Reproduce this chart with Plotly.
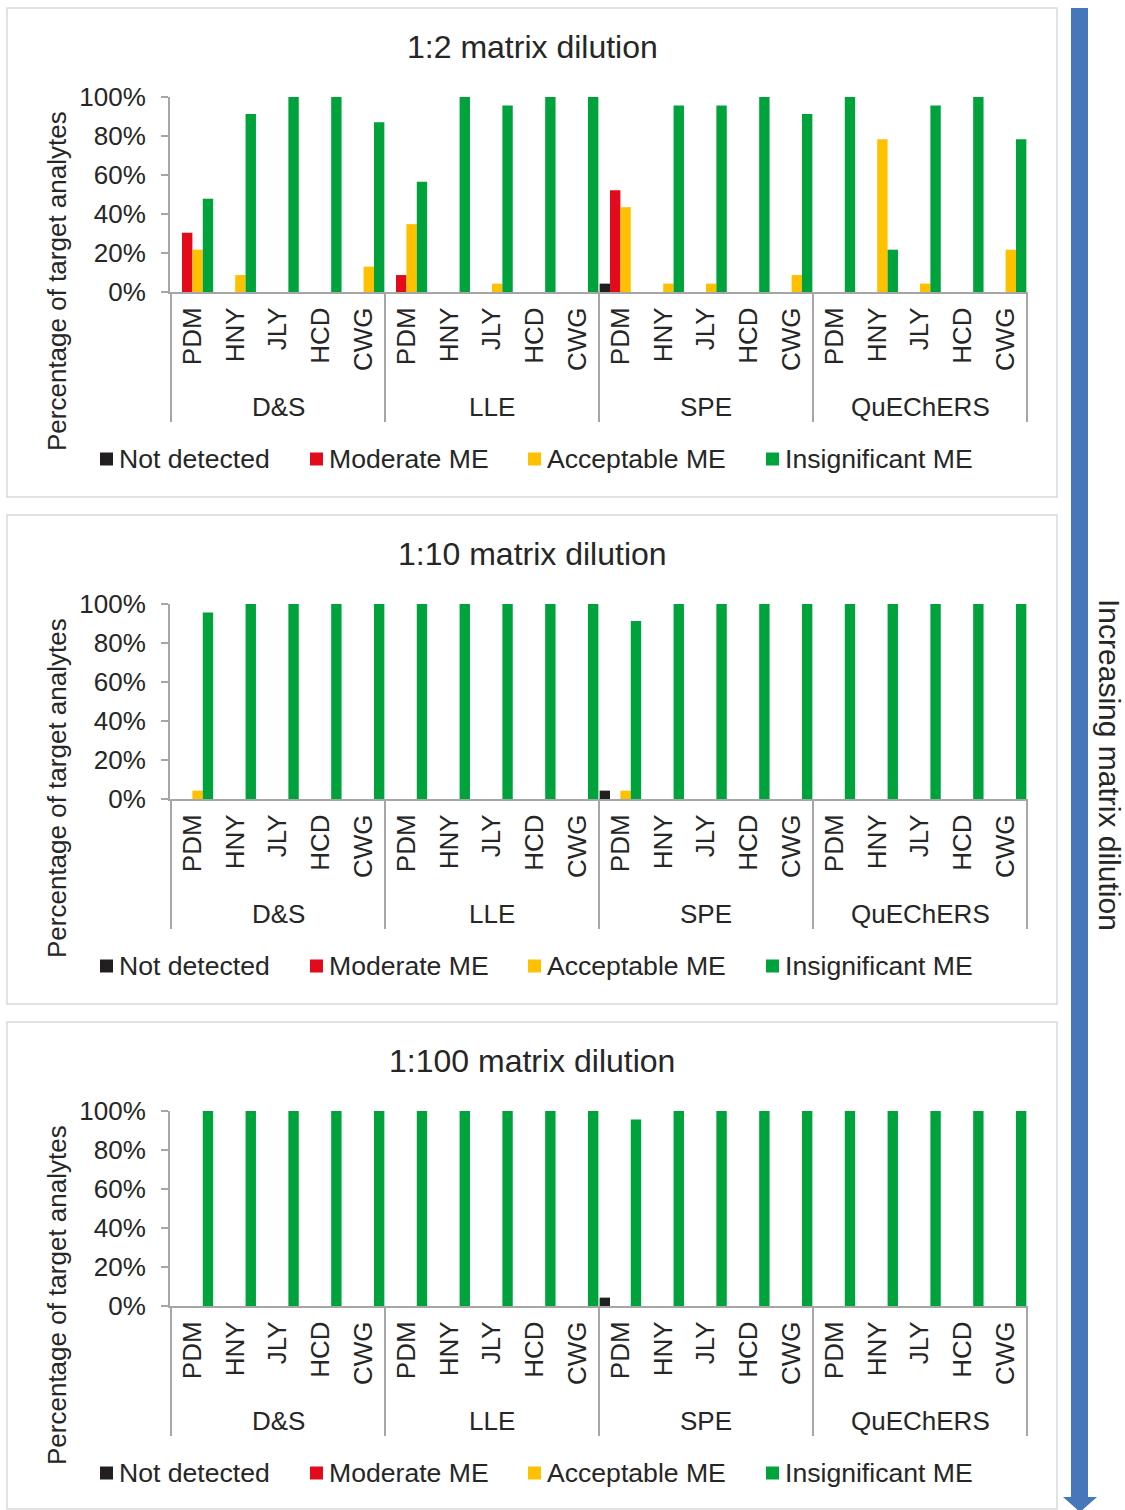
import plotly.graph_objects as go

W, H = 1125, 1510

methods = ["D&S", "LLE", "SPE", "QuEChERS"]
matrices = ["PDM", "HNY", "JLY", "HCD", "CWG"]
series_names = ["Not detected", "Moderate ME", "Acceptable ME", "Insignificant ME"]
series_colors = ["#231F20", "#E30A1C", "#FFC000", "#00A23C"]
panel_titles = ["1:2 matrix dilution", "1:10 matrix dilution", "1:100 matrix dilution"]
tick_labels = ["0%", "20%", "40%", "60%", "80%", "100%"]
tick_values = [0, 20, 40, 60, 80, 100]

# Panel 1 (1:2), percentages, order: D&S, LLE, SPE, QuEChERS x PDM, HNY, JLY, HCD, CWG
not_detected_1 = [0, 0, 0, 0, 0,  0, 0, 0, 0, 0,  4.3, 0, 0, 0, 0,  0, 0, 0, 0, 0]
moderate_1 = [30.4, 0, 0, 0, 0,  8.7, 0, 0, 0, 0,  52.2, 0, 0, 0, 0,  0, 0, 0, 0, 0]
acceptable_1 = [21.7, 8.7, 0, 0, 13.0,  34.8, 0, 4.3, 0, 0,  43.5, 4.3, 4.3, 0, 8.7,  0, 78.3, 4.3, 0, 21.7]
insignificant_1 = [47.8, 91.3, 100, 100, 87.0,  56.5, 100, 95.7, 100, 100,  0, 95.7, 95.7, 100, 91.3,  100, 21.7, 95.7, 100, 78.3]

# Panel 2 (1:10)
not_detected_2 = [0, 0, 0, 0, 0,  0, 0, 0, 0, 0,  4.3, 0, 0, 0, 0,  0, 0, 0, 0, 0]
moderate_2 = [0, 0, 0, 0, 0,  0, 0, 0, 0, 0,  0, 0, 0, 0, 0,  0, 0, 0, 0, 0]
acceptable_2 = [4.3, 0, 0, 0, 0,  0, 0, 0, 0, 0,  4.3, 0, 0, 0, 0,  0, 0, 0, 0, 0]
insignificant_2 = [95.7, 100, 100, 100, 100,  100, 100, 100, 100, 100,  91.3, 100, 100, 100, 100,  100, 100, 100, 100, 100]

# Panel 3 (1:100)
not_detected_3 = [0, 0, 0, 0, 0,  0, 0, 0, 0, 0,  4.3, 0, 0, 0, 0,  0, 0, 0, 0, 0]
moderate_3 = [0, 0, 0, 0, 0,  0, 0, 0, 0, 0,  0, 0, 0, 0, 0,  0, 0, 0, 0, 0]
acceptable_3 = [0, 0, 0, 0, 0,  0, 0, 0, 0, 0,  0, 0, 0, 0, 0,  0, 0, 0, 0, 0]
insignificant_3 = [100, 100, 100, 100, 100,  100, 100, 100, 100, 100,  95.7, 100, 100, 100, 100,  100, 100, 100, 100, 100]

panels = [
    [not_detected_1, moderate_1, acceptable_1, insignificant_1],
    [not_detected_2, moderate_2, acceptable_2, insignificant_2],
    [not_detected_3, moderate_3, acceptable_3, insignificant_3],
]

categories = [f"{m} {mx}" for m in methods for mx in matrices]
cat_text = [mx for m in methods for mx in matrices]

FONT = "Liberation Sans, Arial, sans-serif"
TXT = "#262626"
AXC = "#A6A6A6"

def py(p):
    return 1 - p / H

def px(p):
    return p / W

fig = go.Figure()
layout = dict(
    width=W, height=H, margin=dict(l=0, r=0, t=0, b=0, pad=0, autoexpand=False),
    paper_bgcolor="white", plot_bgcolor="white", template="none",
    barmode="group", bargap=0.03, bargroupgap=0,
    showlegend=False, font=dict(family=FONT, color=TXT, size=26),
)
shapes = []
annotations = []
PANEL_STEP = 507
legend_sq_x = [100, 310, 528, 766]

for k, pdata in enumerate(panels):
    off = PANEL_STEP * k
    xa = "x" if k == 0 else f"x{k+1}"
    ya = "y" if k == 0 else f"y{k+1}"
    for name, color, vals in zip(series_names, series_colors, pdata):
        fig.add_trace(go.Bar(x=categories, y=vals, name=name, marker_color=color,
                             marker_line_width=0, xaxis=xa, yaxis=ya))
    xkey = "xaxis" if k == 0 else f"xaxis{k+1}"
    ykey = "yaxis" if k == 0 else f"yaxis{k+1}"
    layout[xkey] = dict(
        domain=[px(170), px(1028)], anchor=ya, type="category", automargin=False,
        tickmode="array", tickvals=categories, ticktext=cat_text,
        tickangle=-90, ticks="", showline=True, linecolor=AXC, linewidth=2,
        tickfont=dict(size=26, color=TXT, family=FONT), showgrid=False, zeroline=False,
        ticklabelstandoff=3, fixedrange=True,
    )
    layout[ykey] = dict(
        domain=[py(292 + off), py(97 + off)], anchor=xa, range=[0, 100], automargin=False,
        tickmode="array", tickvals=tick_values, ticktext=tick_labels,
        ticks="outside", ticklen=7, tickcolor=AXC, tickwidth=2,
        showline=True, linecolor=AXC, linewidth=2, showgrid=False, zeroline=False,
        tickfont=dict(size=26, color=TXT, family=FONT), ticklabelstandoff=10,
        fixedrange=True,
    )
    # panel border
    shapes.append(dict(type="rect", xref="paper", yref="paper",
                       x0=px(7), x1=px(1057), y0=py(min(497 + off, 1509)), y1=py(8 + off),
                       line=dict(color="#D9D9D9", width=1.5), layer="below"))
    # group dividers
    for b in range(len(methods) + 1):
        xv = b * len(matrices) - 0.5
        shapes.append(dict(type="line", xref=xa, yref="paper", x0=xv, x1=xv,
                           y0=py(422 + off), y1=py(292 + off),
                           line=dict(color=AXC, width=2)))
    # group labels
    for gi, m in enumerate(methods):
        annotations.append(dict(xref=xa, yref="paper", x=gi * len(matrices) + (len(matrices) - 1) / 2,
                                y=py(407 + off), text=m, showarrow=False,
                                xanchor="center", yanchor="middle",
                                font=dict(size=26, color=TXT, family=FONT)))
    # title
    annotations.append(dict(xref="paper", yref="paper", x=px(532), y=py(47 + off),
                            text=panel_titles[k], showarrow=False, xanchor="center",
                            yanchor="middle", font=dict(size=32, color=TXT, family=FONT)))
    # y title
    annotations.append(dict(xref="paper", yref="paper", x=px(57), y=py(281 + off),
                            text="Percentage of target analytes", showarrow=False,
                            textangle=-90, xanchor="center", yanchor="middle",
                            font=dict(size=26, color=TXT, family=FONT)))
    # legend
    for sx, name, color in zip(legend_sq_x, series_names, series_colors):
        cy = 459 + off
        shapes.append(dict(type="rect", xref="paper", yref="paper",
                           x0=px(sx), x1=px(sx + 13), y0=py(cy + 6.5), y1=py(cy - 6.5),
                           fillcolor=color, line=dict(width=0)))
        annotations.append(dict(xref="paper", yref="paper", x=px(sx + 17), y=py(cy),
                                text=name, showarrow=False, xanchor="left", yanchor="middle",
                                font=dict(size=26.6, color=TXT, family=FONT)))

# arrow
ARROW = "#4677BB"
shapes.append(dict(type="rect", xref="paper", yref="paper",
                   x0=px(1071), x1=px(1088), y0=py(1497), y1=py(8),
                   fillcolor=ARROW, line=dict(width=0)))
shapes.append(dict(type="path", xref="paper", yref="paper",
                   path=f"M {px(1063)},{py(1497)} L {px(1097)},{py(1497)} L {px(1080)},{py(1512)} Z",
                   fillcolor=ARROW, line=dict(width=0)))
annotations.append(dict(xref="paper", yref="paper", x=px(1110), y=py(765),
                        text="Increasing matrix dilution", showarrow=False, textangle=90,
                        xanchor="center", yanchor="middle",
                        font=dict(size=30, color=TXT, family=FONT)))

layout["shapes"] = shapes
layout["annotations"] = annotations
fig.update_layout(**layout)
fig.write_html("out.html", config={"displayModeBar": False},
               post_script="document.body.style.margin='0';document.body.style.overflow='hidden';")
